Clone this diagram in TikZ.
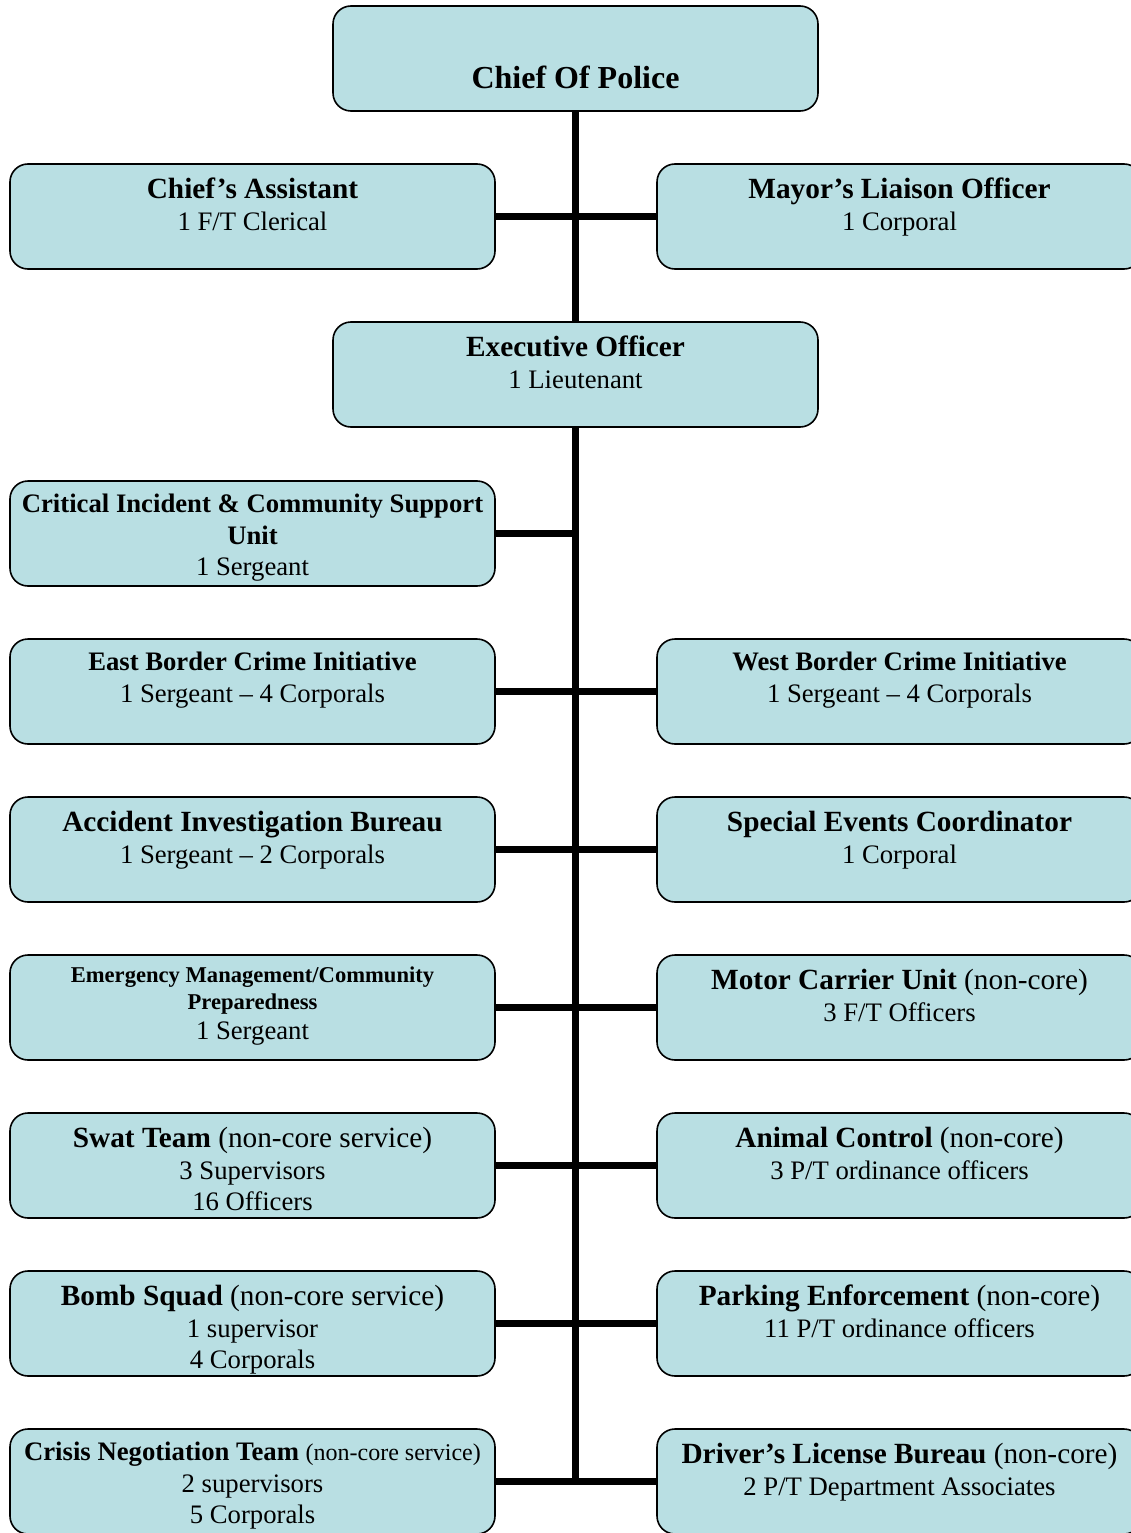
\documentclass[tikz,border=0pt]{standalone}
\usepackage{fontspec}
\setmainfont{Liberation Serif}
\usetikzlibrary{backgrounds,calc}
\definecolor{boxfill}{RGB}{185,223,227}
\newcommand\orgln[2]{{\fontsize{#1}{0}\selectfont\rule[-0.22em]{0pt}{1.17em}#2\par}}
\newcommand\boxtext[2][6.5pt]{\begin{minipage}[c][105pt][t]{485pt}\centering\fontsize{20}{0}\selectfont\lineskip=0pt\lineskiplimit=0pt\vspace*{#1}#2\end{minipage}}
\tikzset{
  orgbox/.style={draw, line width=1.6pt, rounded corners=18pt, fill=boxfill,
    inner sep=0pt, outer sep=0pt, minimum width=485pt, minimum height=105pt},
  conn/.style={line width=6.5pt}
}
\begin{document}
\begin{tikzpicture}[x=1pt,y=-1pt]
\useasboundingbox (0,0) rectangle (1131,1533);
\clip (0,0) rectangle (1131,1533);
\node[orgbox] (chief) at (575.5,58.5) {\boxtext[52pt]{\orgln{32}{\bfseries Chief Of Police}}};
\node[orgbox] (asst) at (252.5,216.5) {\boxtext{\orgln{29.3}{\bfseries Chief’s Assistant}\orgln{26.7}{1 F/T Clerical}}};
\node[orgbox] (mayor) at (899.5,216.5) {\boxtext{\orgln{29.3}{\bfseries Mayor’s Liaison Officer}\orgln{26.7}{1 Corporal}}};
\node[orgbox] (exec) at (575.5,374.5) {\boxtext{\orgln{29.3}{\bfseries Executive Officer}\orgln{26.7}{1 Lieutenant}}};
\node[orgbox] (crit) at (252.5,533.5) {\boxtext{\orgln{26.7}{\bfseries Critical Incident \& Community Support}\orgln{26.7}{\bfseries Unit}\orgln{26.7}{1 Sergeant}}};
\node[orgbox] (east) at (252.5,691.5) {\boxtext{\orgln{26.7}{\bfseries East Border Crime Initiative}\orgln{26.7}{1 Sergeant – 4 Corporals}}};
\node[orgbox] (west) at (899.5,691.5) {\boxtext{\orgln{26.7}{\bfseries West Border Crime Initiative}\orgln{26.7}{1 Sergeant – 4 Corporals}}};
\node[orgbox] (accid) at (252.5,849.5) {\boxtext{\orgln{29.3}{\bfseries Accident Investigation Bureau}\orgln{26.7}{1 Sergeant – 2 Corporals}}};
\node[orgbox] (special) at (899.5,849.5) {\boxtext{\orgln{29.3}{\bfseries Special Events Coordinator}\orgln{26.7}{1 Corporal}}};
\node[orgbox] (emerg) at (252.5,1007.5) {\boxtext{\orgln{22.6}{\bfseries Emergency Management/Community}\orgln{22.6}{\bfseries Preparedness}\orgln{26.7}{1 Sergeant}}};
\node[orgbox] (motor) at (899.5,1007.5) {\boxtext{\orgln{29.3}{\bfseries Motor Carrier Unit \mdseries(non-core)}\orgln{26.7}{3 F/T Officers}}};
\node[orgbox] (swat) at (252.5,1165.5) {\boxtext{\orgln{29.3}{\bfseries Swat Team \mdseries(non-core service)}\orgln{26.7}{3 Supervisors}\orgln{26.7}{16 Officers}}};
\node[orgbox] (animal) at (899.5,1165.5) {\boxtext{\orgln{29.3}{\bfseries Animal Control \mdseries(non-core)}\orgln{26.7}{3 P/T ordinance officers}}};
\node[orgbox] (bomb) at (252.5,1323.5) {\boxtext{\orgln{29.3}{\bfseries Bomb Squad \mdseries(non-core service)}\orgln{26.7}{1 supervisor}\orgln{26.7}{4 Corporals}}};
\node[orgbox] (parking) at (899.5,1323.5) {\boxtext{\orgln{29.3}{\bfseries Parking Enforcement \mdseries(non-core)}\orgln{26.7}{11 P/T ordinance officers}}};
\node[orgbox] (crisis) at (252.5,1481.5) {\boxtext{\orgln{26.7}{\bfseries Crisis Negotiation Team \mdseries\fontsize{24}{0}\selectfont(non-core service)}\orgln{26.7}{2 supervisors}\orgln{26.7}{5 Corporals}}};
\node[orgbox] (driver) at (899.5,1481.5) {\boxtext{\orgln{29.3}{\bfseries Driver’s License Bureau \mdseries(non-core)}\orgln{26.7}{2 P/T Department Associates}}};
\begin{pgfonlayer}{background}
\draw[conn, line cap=rect] (chief.south) -- (exec.north);
\draw[conn, line cap=rect] (exec.south) -- (exec.south |- crisis.east);
\draw[conn] (asst.east) -- (mayor.west);
\draw[conn] (crit.east) -- (crit.east -| exec.south);
\draw[conn] (east.east) -- (west.west);
\draw[conn] (accid.east) -- (special.west);
\draw[conn] (emerg.east) -- (motor.west);
\draw[conn] (swat.east) -- (animal.west);
\draw[conn] (bomb.east) -- (parking.west);
\draw[conn] (crisis.east) -- (driver.west);
\end{pgfonlayer}
\end{tikzpicture}
\end{document}
